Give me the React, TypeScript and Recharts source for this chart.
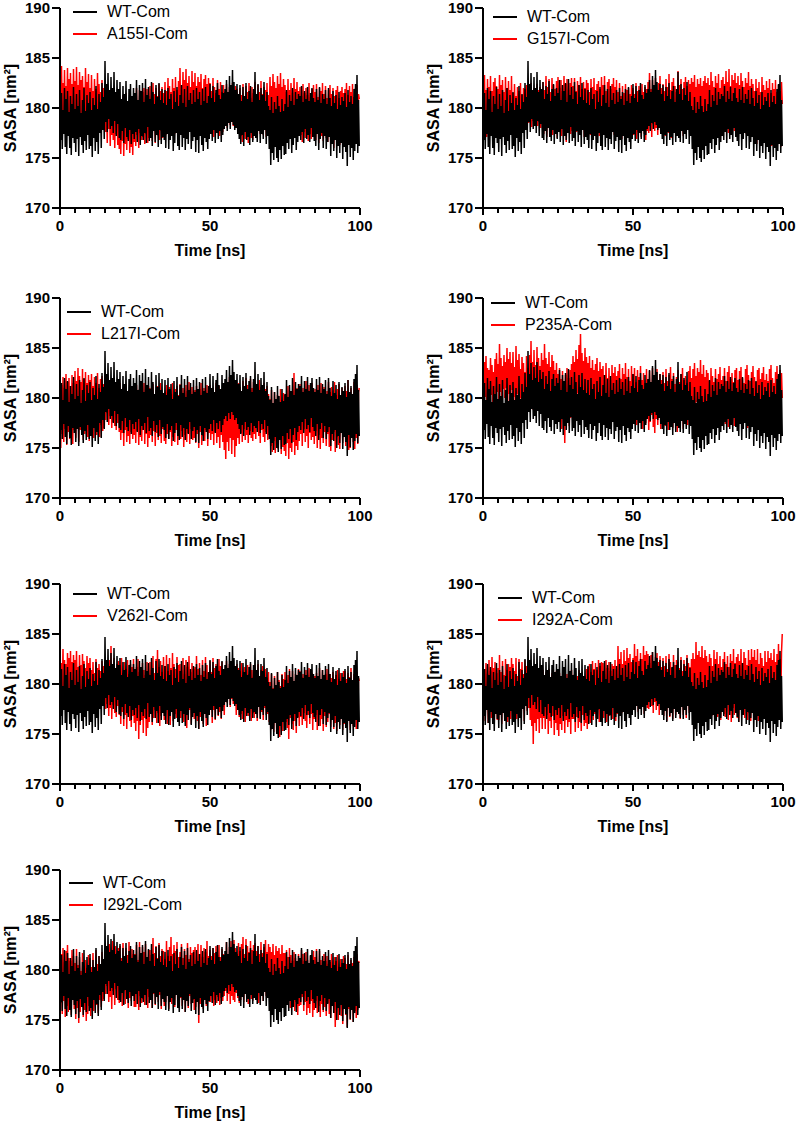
import React from 'react';
import { LineChart, Line, XAxis, YAxis, Legend } from 'recharts';

// Sampling interval of the traces (ns)
const TIME_STEP_NS = 0.25;

const X_TICKS = [0, 5, 10, 15, 20, 25, 30, 35, 40, 45, 50, 55, 60, 65, 70, 75, 80, 85, 90, 95, 100];
const X_LABELED = [0, 50, 100];
const Y_TICKS = [170, 175, 180, 185, 190];

const WT_LABEL = 'WT-Com';
const MUTANT_LABELS = ['A155I-Com', 'G157I-Com', 'L217I-Com', 'P235A-Com', 'V262I-Com', 'I292A-Com', 'I292L-Com'];

const WT_COM = [
  180.2,176.8,181.5,175.9,179.8,177.4,182.0,176.1,180.9,175.4,181.7,177.2,179.6,176.0,181.2,175.3,180.4,177.0,182.1,176.5,
  179.9,175.6,181.4,176.9,180.2,175.2,181.8,177.1,179.5,176.3,180.8,175.5,182.0,176.7,179.7,175.8,181.3,177.3,180.5,175.9,
  181.6,176.2,179.8,175.1,181.0,177.0,180.3,175.7,182.2,176.6,179.9,175.4,181.4,177.5,180.6,176.0,182.5,177.8,181.1,176.9,
  184.7,178.6,182.4,177.6,183.5,178.9,181.8,177.9,183.1,178.2,182.0,177.5,183.6,178.7,181.6,177.2,182.8,178.4,181.9,177.0,
  182.6,176.8,180.9,177.7,182.2,176.5,181.4,178.0,182.7,177.1,180.7,176.7,181.9,177.8,182.4,176.4,181.2,177.4,182.0,176.9,
  181.5,177.6,182.8,176.6,180.8,177.9,182.3,176.3,181.7,177.2,182.5,176.8,180.6,177.5,182.9,176.5,181.3,178.1,182.1,176.7,
  180.9,177.0,182.6,176.2,181.6,177.7,180.4,176.6,182.3,177.3,181.1,176.1,182.5,177.8,180.8,176.4,181.9,177.1,180.5,176.8,
  181.8,176.0,180.3,177.4,182.0,175.9,180.9,176.8,181.4,177.2,179.9,175.7,181.7,176.5,180.6,177.5,182.1,176.2,180.2,175.8,
  181.3,177.3,182.3,176.1,180.5,177.0,181.9,175.8,180.1,176.9,182.2,176.4,180.8,177.6,181.5,175.9,180.4,176.7,181.8,177.1,
  180.6,175.6,182.0,176.8,180.9,175.5,181.6,177.2,180.3,176.3,181.9,175.7,180.7,177.0,182.1,176.6,180.5,175.9,181.2,176.9,
  182.4,177.4,181.0,176.7,182.2,177.8,180.6,176.5,181.8,177.5,182.5,176.9,181.3,177.7,180.9,176.6,182.3,177.3,181.5,177.9,
  181.9,178.2,182.8,177.7,181.6,178.5,183.2,177.9,182.3,178.6,183.8,178.3,182.6,177.8,181.8,178.0,182.4,177.4,181.4,176.9,
  182.3,176.4,180.7,177.3,182.1,176.2,181.2,177.6,182.5,176.8,180.9,177.1,181.7,176.3,182.2,177.5,180.6,176.6,181.9,177.2,
  183.6,177.0,181.4,176.6,182.4,177.7,180.8,176.5,182.0,177.4,181.3,176.9,182.6,177.8,180.7,176.4,181.6,177.2,180.2,175.9,
  179.8,174.3,181.1,175.5,179.5,174.8,180.6,176.1,179.9,175.0,181.2,174.6,180.2,175.8,179.6,174.9,180.9,176.2,179.7,175.3,
  180.4,175.4,181.8,176.5,180.1,175.9,181.3,176.9,180.7,175.5,182.0,176.3,180.3,177.0,181.6,175.8,180.9,176.6,181.4,177.2,
  181.2,176.8,182.2,177.6,180.6,176.5,181.7,177.9,180.9,176.9,182.1,177.3,180.7,176.6,181.5,178.0,182.0,177.1,181.0,176.7,
  180.6,176.2,181.9,177.4,180.8,175.8,182.1,176.9,180.5,177.5,181.4,176.0,180.9,177.2,181.8,175.9,180.4,176.6,182.0,177.1,
  181.0,175.2,180.2,176.4,181.7,175.7,180.5,176.8,181.3,175.0,179.9,176.2,181.6,175.5,180.3,176.5,181.1,174.9,180.7,176.1,
  181.5,175.6,180.1,174.2,181.8,176.3,180.6,175.1,181.2,176.0,180.4,174.8,181.9,175.7,182.4,176.4,183.3,175.5,180.8,176.2,
];

const A155I_COM = [
  183.1,178.4,184.2,179.3,182.5,177.9,183.8,178.8,182.2,179.5,184.0,178.1,182.9,179.0,183.5,177.6,182.4,178.6,183.9,179.2,
  182.7,178.3,184.1,179.4,182.3,178.0,183.6,179.1,182.8,178.5,183.2,179.5,182.1,178.2,184.0,179.0,182.6,178.7,183.4,178.4,
  182.0,177.8,183.3,178.6,181.7,177.5,182.9,178.9,181.9,178.1,183.5,177.7,182.4,178.8,181.6,178.3,182.8,179.0,182.0,178.5,
  181.5,177.6,180.4,176.5,182.0,177.9,180.8,176.2,181.2,177.3,180.1,176.8,181.7,176.0,180.6,177.4,181.0,176.3,180.3,175.9,
  180.9,175.4,179.6,176.7,181.3,175.2,180.2,176.4,181.5,175.8,179.8,176.9,180.7,175.5,181.1,176.1,179.9,175.3,180.5,176.6,
  181.4,176.2,182.0,177.3,180.7,176.0,181.8,177.5,180.9,176.8,181.6,177.1,182.0,176.4,180.6,177.4,181.9,176.5,181.2,177.0,
  182.2,177.6,181.0,176.7,182.5,177.9,181.4,176.5,182.0,178.0,181.2,177.2,182.4,176.8,181.7,177.7,182.1,177.0,181.5,177.8,
  182.6,177.3,181.7,178.4,183.0,177.1,182.2,178.0,181.6,177.6,182.9,178.3,182.0,177.4,183.1,178.5,181.8,177.9,182.7,178.2,
  184.0,178.6,182.3,179.3,183.6,178.1,182.8,179.0,183.9,178.4,182.5,179.5,183.2,178.8,182.1,178.0,183.7,179.2,182.6,178.5,
  183.5,177.8,182.2,178.9,183.1,177.5,182.6,178.6,183.4,178.2,182.0,178.9,182.9,177.7,183.3,178.4,182.4,177.9,183.0,178.7,
  182.5,177.4,181.7,178.3,183.0,177.1,182.1,178.0,181.5,177.8,182.8,178.5,181.9,177.2,182.6,178.1,181.6,177.6,182.3,178.4,
  181.6,178.5,182.4,178.0,181.2,178.8,182.1,178.3,181.8,179.0,182.5,178.2,181.4,178.6,182.2,178.1,181.9,177.9,181.3,178.4,
  182.0,177.2,181.3,176.6,182.4,177.8,181.1,176.9,182.2,177.5,181.6,176.5,182.5,177.6,181.0,177.0,182.1,176.8,181.5,177.7,
  182.6,177.9,181.2,177.0,182.3,178.3,181.6,177.4,182.7,178.0,181.4,177.3,182.1,178.5,181.8,177.1,182.5,178.2,181.3,178.6,
  183.1,178.8,182.2,179.3,183.4,178.5,182.6,179.1,182.0,178.9,183.2,179.5,182.4,178.6,183.5,179.0,182.1,178.7,182.9,179.4,
  182.3,178.0,181.6,177.6,182.9,178.6,181.8,177.9,182.5,178.4,181.5,177.5,183.0,178.8,181.9,177.7,182.6,178.3,181.7,177.8,
  182.1,177.3,181.2,176.6,182.4,177.6,181.5,177.0,182.0,177.8,181.3,176.7,182.5,177.4,181.1,176.9,181.9,177.7,182.3,177.1,
  181.6,176.8,182.4,177.5,181.1,176.5,182.0,177.9,181.7,177.2,182.5,176.7,181.4,177.6,182.2,177.0,181.0,176.6,181.8,177.4,
  182.3,176.5,181.4,177.2,182.0,176.0,181.2,177.4,181.8,176.8,182.2,177.1,181.0,176.3,181.7,177.5,182.1,176.6,181.5,177.0,
  181.9,177.3,182.5,176.7,181.3,177.8,182.2,176.9,181.6,177.6,182.4,177.1,181.1,176.5,182.0,177.7,182.3,178.0,181.4,180.9,
];

const G157I_COM = [
  182.4,177.6,183.3,178.3,181.8,177.1,182.9,178.5,182.1,177.8,183.2,178.0,181.7,177.3,182.6,178.4,183.0,177.5,182.2,178.1,
  181.9,177.9,183.3,178.6,182.3,177.2,182.8,178.2,181.6,177.7,183.1,178.5,182.0,177.0,182.7,178.3,181.8,177.6,183.2,178.0,
  181.5,177.8,182.4,178.3,181.2,177.6,182.1,178.5,181.7,177.9,182.5,178.2,181.3,177.5,182.0,178.4,181.9,178.0,182.3,178.6,
  182.2,178.5,181.4,178.9,182.5,178.1,181.6,178.7,182.0,178.3,181.3,178.9,182.4,178.2,181.8,178.6,182.1,178.0,181.5,178.4,
  182.6,177.4,181.8,178.3,183.2,177.1,182.1,178.0,182.9,177.6,181.6,178.5,183.0,177.3,182.3,177.9,181.9,178.2,182.7,177.0,
  183.1,177.8,182.0,178.4,182.8,177.2,181.7,178.1,183.2,177.5,182.4,176.6,182.9,177.9,181.8,178.3,182.5,177.4,183.0,177.7,
  182.2,177.2,183.0,178.5,181.7,177.6,182.7,178.0,182.3,177.3,183.1,178.4,181.9,177.8,182.6,177.1,182.0,178.2,182.8,177.5,
  182.5,177.9,181.6,177.3,182.9,178.4,182.1,177.0,183.0,178.1,181.8,177.6,182.4,178.5,182.7,177.2,181.9,178.0,183.1,177.7,
  182.3,177.4,183.2,178.2,181.7,177.8,182.6,177.1,182.9,178.5,181.9,177.6,182.4,178.0,183.0,177.3,182.1,178.3,182.8,177.5,
  181.6,177.1,182.5,177.8,181.2,176.9,182.2,178.0,181.5,177.4,182.4,176.8,181.8,177.7,182.0,177.2,181.4,178.0,182.3,177.5,
  182.0,177.3,181.4,177.9,182.5,176.9,181.7,177.6,182.2,178.0,181.3,177.1,182.4,177.8,181.6,177.4,182.1,176.8,181.9,177.7,
  182.6,177.5,183.5,178.2,181.9,177.1,182.8,178.4,182.2,177.7,183.0,178.0,181.8,177.3,182.5,178.5,183.2,177.6,182.0,178.1,
  182.4,177.8,181.7,177.2,182.9,178.3,182.1,177.5,183.4,178.0,181.8,177.0,182.6,178.4,183.0,177.6,182.2,177.9,181.6,177.4,
  183.7,178.1,182.3,177.5,182.9,178.4,181.9,177.2,182.6,178.0,183.1,177.7,182.2,178.3,182.8,178.6,182.4,178.9,183.0,179.1,
  182.6,179.0,183.3,178.7,182.1,179.4,182.9,178.5,182.4,179.2,183.0,178.8,182.2,179.5,182.7,178.6,183.2,179.0,182.5,178.9,
  183.0,178.2,182.3,177.8,183.6,178.5,182.7,178.0,182.1,177.6,183.2,178.7,182.5,177.9,183.4,178.3,182.0,177.5,182.8,178.4,
  183.1,177.8,182.4,178.6,183.7,178.0,182.6,177.5,183.9,178.3,182.2,177.9,183.3,178.6,182.8,177.7,183.5,178.1,182.5,178.8,
  183.2,178.0,182.3,177.6,183.5,178.4,182.7,177.9,182.1,178.6,183.0,177.4,182.5,178.2,183.6,177.8,182.2,178.5,182.9,177.7,
  182.4,176.9,181.7,177.5,182.9,176.4,182.0,177.2,182.6,176.8,181.6,177.6,183.1,176.6,182.3,177.0,181.8,176.3,182.7,177.4,
  182.0,176.7,182.9,177.3,181.5,176.2,182.5,177.5,181.9,176.9,182.8,177.0,181.6,176.5,182.3,177.6,181.7,176.1,182.6,180.4,
];

const L217I_COM = [
  182.5,175.0,181.3,176.4,182.1,175.6,181.0,176.9,182.4,175.3,181.6,176.6,182.0,175.9,181.2,176.2,182.3,175.4,181.5,176.8,
  182.7,176.0,181.7,177.3,183.0,175.6,182.2,176.8,181.6,177.1,182.9,175.8,181.9,176.4,182.6,177.4,181.5,176.1,182.3,175.7,
  181.8,176.5,182.4,177.2,181.2,176.0,182.1,177.5,181.5,176.3,182.5,176.9,181.0,176.1,181.9,177.3,182.2,176.7,181.4,177.0,
  182.0,177.8,181.2,178.5,181.9,177.3,180.8,178.2,181.6,177.0,180.6,177.6,181.3,177.2,180.7,176.8,181.1,177.5,180.5,176.6,
  181.5,175.8,180.2,176.5,181.0,175.2,180.6,176.8,181.4,175.6,179.9,176.2,180.8,175.4,181.2,176.6,180.1,175.9,180.9,176.3,
  180.4,175.5,181.3,176.7,179.8,175.3,180.9,176.1,181.1,175.7,180.2,176.8,181.5,175.4,180.0,176.4,180.7,175.1,181.2,176.0,
  181.0,176.3,180.3,175.6,181.4,176.7,179.7,175.2,180.8,176.5,181.2,175.8,180.1,176.2,181.5,175.5,180.5,176.9,179.9,175.7,
  180.6,175.4,181.3,176.4,180.0,175.9,181.1,176.6,180.4,175.2,181.5,176.1,179.8,175.6,180.9,176.8,181.2,175.3,180.3,176.2,
  181.4,175.9,180.5,176.7,181.0,175.1,179.9,176.3,181.3,175.6,180.7,176.5,181.6,175.4,180.2,176.9,181.1,175.8,180.4,176.0,
  180.8,175.5,181.2,176.4,179.8,175.0,180.9,176.6,181.5,175.3,180.1,176.2,181.0,175.7,180.6,176.8,181.3,175.2,180.3,176.5,
  181.3,175.8,180.2,176.4,181.0,175.3,179.8,176.6,181.5,175.5,180.6,176.1,181.2,175.0,180.0,176.3,180.8,175.6,181.4,174.8,
  180.5,173.9,181.6,175.6,180.2,174.7,182.1,176.0,180.9,174.4,181.3,175.8,180.6,174.1,181.8,175.2,180.4,176.0,181.5,175.4,
  181.1,176.5,180.6,175.6,181.7,176.9,180.9,175.8,182.0,176.3,181.3,175.5,180.7,176.7,181.9,176.0,181.0,175.7,181.6,176.4,
  180.8,175.9,181.4,177.0,180.5,176.2,181.8,175.5,181.1,176.8,180.6,176.1,181.5,175.6,180.9,176.6,181.2,175.8,180.4,176.3,
  179.9,175.2,180.8,174.6,179.4,175.7,180.6,174.5,179.2,175.3,180.3,174.9,179.6,175.8,180.9,174.4,179.8,175.1,180.5,174.7,
  180.3,174.2,179.6,175.5,181.2,173.9,180.1,175.0,179.5,174.6,180.7,175.6,182.5,174.3,180.0,175.2,181.0,174.8,180.4,175.7,
  181.4,176.4,180.2,175.2,181.0,176.9,180.5,175.6,181.7,176.2,180.8,175.0,181.3,176.5,180.1,175.8,181.5,176.1,180.6,175.4,
  180.9,176.7,179.8,175.0,181.3,176.3,180.4,174.9,181.5,176.0,180.1,175.5,181.1,176.6,179.9,175.2,180.7,176.4,181.6,175.1,
  180.6,174.7,181.1,175.8,180.0,176.6,181.6,174.6,180.3,176.1,180.9,175.3,181.4,174.9,180.2,176.5,181.0,175.5,180.5,176.2,
  181.2,175.2,180.7,176.4,181.8,174.8,180.5,175.0,181.0,176.3,180.3,175.6,181.6,174.9,180.8,176.0,181.3,175.4,180.6,181.0,
];

const P235A_COM = [
  182.2,179.6,183.6,180.1,184.2,179.2,183.0,180.5,182.8,179.0,184.0,180.3,183.3,179.5,182.6,180.2,183.9,179.4,184.5,180.6,
  183.4,179.8,185.4,180.6,184.0,179.5,183.2,180.9,184.3,180.0,183.6,181.0,185.0,179.7,183.9,180.4,184.6,179.6,183.5,180.8,
  184.6,180.1,183.1,179.2,185.2,180.4,183.8,179.7,184.4,180.0,182.9,179.3,184.1,180.5,183.5,179.0,182.6,178.8,184.2,179.5,
  183.0,178.6,184.3,179.4,185.7,180.0,183.6,178.8,184.8,179.7,183.3,179.1,185.1,180.2,184.0,178.9,183.2,179.6,184.5,180.0,
  183.8,179.2,185.4,180.1,184.0,178.7,183.4,179.8,184.6,178.9,183.1,180.0,184.3,179.4,183.7,178.6,182.8,179.1,183.5,178.5,
  182.4,177.8,183.0,178.5,181.9,176.9,182.7,178.2,181.6,175.5,182.3,177.6,183.0,178.4,182.0,177.2,182.8,178.0,183.4,179.0,
  184.2,179.6,183.6,180.3,184.8,179.1,183.9,180.5,185.3,179.8,186.4,180.6,184.5,179.4,183.7,180.2,185.0,179.7,184.1,180.0,
  183.5,179.3,184.2,178.9,183.0,179.6,183.8,178.6,182.8,179.9,183.4,178.8,184.0,179.2,182.7,178.5,183.6,179.5,182.9,178.7,
  183.2,178.4,182.3,177.6,183.5,178.9,182.0,177.9,183.0,178.2,181.8,177.4,183.3,178.6,182.5,177.7,183.1,179.0,182.2,178.1,
  182.7,177.5,183.4,178.6,181.9,177.2,183.0,178.3,182.4,177.8,183.5,178.9,182.1,177.3,182.9,178.0,181.7,177.6,183.2,178.5,
  182.4,177.9,183.0,178.2,181.6,177.3,182.8,178.7,182.1,177.6,183.2,178.4,181.8,176.9,182.5,178.0,181.5,177.5,182.9,178.6,
  181.9,176.8,182.7,177.6,181.4,178.3,183.0,177.1,182.2,176.5,181.6,177.9,182.9,177.3,181.3,178.1,182.4,176.9,181.8,177.7,
  182.6,178.0,181.5,177.2,182.9,178.5,181.7,176.8,182.3,177.6,183.1,178.2,181.9,177.0,182.5,178.4,181.4,177.5,182.1,176.6,
  182.8,177.8,181.6,177.1,182.4,178.3,183.0,176.9,181.8,177.6,182.2,178.1,181.5,177.3,182.7,178.5,183.2,179.0,182.0,178.6,
  182.9,179.1,183.5,178.4,182.2,179.6,183.0,178.8,182.6,179.3,183.8,179.7,182.4,178.5,183.3,179.0,182.1,178.3,182.8,179.4,
  182.5,177.8,181.7,177.3,183.0,178.6,182.2,177.0,181.6,178.2,182.9,177.5,181.9,178.8,182.4,177.2,183.1,178.0,181.8,177.6,
  182.2,178.3,183.0,177.4,181.7,178.7,182.6,177.1,183.2,178.0,181.9,177.8,182.5,178.5,181.6,177.2,182.8,178.2,183.0,177.6,
  181.8,177.9,182.7,178.4,183.1,177.3,182.0,178.6,181.5,177.6,182.9,178.1,183.3,177.0,182.3,178.5,181.7,177.5,182.6,178.0,
  183.2,177.7,182.1,178.6,181.6,177.2,182.8,178.3,183.0,177.5,181.9,178.8,182.5,177.4,183.1,178.0,181.8,177.8,182.4,178.5,
  181.7,177.3,182.9,178.2,183.3,177.6,182.0,178.7,181.5,177.1,182.6,178.4,183.2,177.9,182.2,178.0,182.8,177.4,182.5,180.0,
];

const V262I_COM = [
  183.4,178.3,182.1,179.2,183.5,177.6,182.4,178.9,182.0,177.8,183.1,179.5,182.6,178.1,183.3,179.0,182.2,177.7,182.9,178.6,
  182.4,178.5,183.3,179.0,181.7,178.2,182.9,179.4,181.9,178.0,183.0,178.7,182.3,179.2,181.6,178.4,182.8,179.5,182.1,178.3,
  182.6,178.1,181.4,177.5,182.2,178.9,181.1,177.8,182.5,178.4,181.6,177.6,182.0,178.7,181.3,178.0,182.3,177.9,181.8,178.3,
  181.6,177.5,182.1,178.0,181.3,176.8,182.4,177.6,183.8,176.5,181.8,177.9,182.6,177.1,181.5,176.7,182.0,177.8,182.3,176.9,
  181.9,176.0,182.6,177.2,181.1,175.8,182.2,176.9,181.5,175.5,182.4,177.4,181.0,176.3,182.0,175.7,181.7,176.8,182.5,176.1,
  180.8,175.3,181.7,176.3,182.5,174.5,181.2,175.9,180.6,176.4,182.1,175.1,181.4,176.6,180.9,174.8,182.2,175.6,181.0,176.2,
  182.2,177.0,181.4,175.9,182.8,176.6,181.1,177.4,182.5,176.1,183.4,177.1,181.7,175.8,182.3,176.8,181.2,177.3,182.7,176.4,
  181.8,177.6,182.9,176.0,181.3,177.2,182.6,175.9,181.6,177.5,183.1,176.3,182.0,177.0,181.5,176.6,182.7,177.8,181.9,176.2,
  182.0,176.6,181.3,177.5,182.6,176.2,181.0,177.1,182.4,175.6,181.7,176.9,182.8,177.4,181.2,176.0,182.1,177.3,181.5,176.5,
  181.7,177.0,182.8,176.3,181.5,175.5,182.1,176.7,180.9,177.2,182.4,176.0,181.3,177.4,182.7,175.8,181.9,176.9,181.1,177.3,
  182.3,177.6,181.2,176.1,182.6,177.4,181.6,176.4,182.0,177.9,181.4,176.8,182.5,177.2,181.8,176.5,182.2,177.7,181.5,176.9,
  181.5,178.4,182.3,178.1,181.2,178.6,182.0,177.7,181.7,178.5,182.3,178.0,181.4,178.3,180.8,176.9,182.0,177.4,181.6,176.7,
  181.3,177.0,182.1,176.5,180.9,177.6,181.7,176.2,180.5,177.3,181.9,176.8,181.0,177.5,182.0,176.3,181.4,177.1,180.7,176.6,
  181.9,177.5,181.0,176.3,182.0,177.8,180.7,176.6,181.4,177.2,181.8,176.4,180.9,177.6,181.5,176.9,180.6,177.0,181.2,176.2,
  180.2,175.4,181.0,176.8,179.6,175.2,180.8,176.4,179.9,175.0,181.2,176.1,180.4,174.7,179.8,175.9,181.0,175.3,180.5,176.5,
  181.2,176.2,180.4,175.6,180.9,174.5,181.5,176.6,180.6,176.0,181.3,175.4,180.1,176.3,181.0,175.1,180.7,176.7,181.5,175.8,
  181.3,176.7,180.7,175.9,181.0,177.1,180.5,176.3,181.4,175.6,180.9,176.9,181.6,176.0,180.3,177.0,181.1,175.4,180.8,176.5,
  180.8,176.9,181.1,175.4,180.3,177.2,181.6,175.8,180.2,176.5,181.4,175.3,180.7,176.8,181.0,175.7,181.5,176.2,180.4,177.0,
  181.0,175.7,180.6,176.8,181.2,175.5,180.0,176.1,180.9,175.3,181.4,176.4,180.5,175.9,181.1,176.6,180.2,175.4,181.3,176.0,
  181.3,176.4,180.5,175.6,181.1,176.9,180.7,175.4,181.6,176.2,180.3,175.8,181.0,176.6,180.8,175.5,181.2,176.3,180.6,180.3,
];

const I292A_COM = [
  182.8,177.0,181.5,176.3,182.1,177.8,181.0,176.1,182.4,177.5,181.3,176.6,182.7,177.2,181.6,176.0,182.2,177.6,181.1,176.4,
  181.6,176.4,182.9,177.2,181.2,176.0,182.3,177.6,180.9,176.7,182.5,177.0,181.4,176.2,182.0,177.4,181.7,176.5,182.6,177.8,
  182.0,176.2,181.3,177.4,182.6,176.5,180.8,178.0,182.5,177.1,181.5,176.8,182.2,177.6,181.0,176.3,182.4,177.9,181.8,177.3,
  182.2,177.6,180.9,176.4,181.6,175.8,180.5,174.0,181.2,176.1,180.7,175.3,181.9,176.5,180.4,175.1,181.0,176.6,180.2,175.5,
  181.4,176.6,180.5,175.5,181.2,176.9,180.0,175.0,181.5,176.3,179.8,175.6,181.1,176.8,180.3,174.9,180.9,176.1,181.3,175.4,
  180.3,174.8,181.1,176.0,179.6,175.4,180.7,176.8,181.3,175.1,180.1,176.4,181.0,175.7,179.9,176.2,180.6,175.0,181.4,176.5,
  180.1,176.5,181.0,175.2,179.9,176.7,180.8,175.6,181.4,176.2,180.4,175.3,181.2,176.9,180.0,175.8,180.7,176.1,181.5,175.5,
  181.7,176.9,182.0,176.1,181.2,177.3,182.3,176.4,181.5,177.0,182.1,176.6,181.4,177.4,182.4,176.2,181.8,177.1,182.2,176.8,
  182.1,176.6,181.0,177.4,182.4,176.2,181.6,177.7,182.2,176.8,181.3,177.2,182.0,176.5,181.8,177.6,182.4,176.3,181.5,177.0,
  183.8,177.3,182.5,178.0,183.2,177.1,182.0,178.3,183.4,177.6,182.3,177.9,183.6,177.2,182.6,178.4,183.0,177.5,182.2,178.1,
  182.6,178.1,184.0,177.4,182.8,178.5,183.5,177.2,182.3,178.0,183.1,177.7,182.5,178.4,183.8,177.0,182.9,178.2,183.3,177.6,
  183.0,177.5,182.1,178.6,182.9,177.8,183.2,177.1,181.9,178.2,182.7,177.4,183.1,178.0,182.2,176.9,182.8,178.3,181.7,177.6,
  182.6,176.8,181.8,177.6,182.8,176.3,181.5,177.9,183.0,176.7,182.2,177.2,181.6,176.5,182.9,177.8,181.9,176.9,182.4,177.4,
  182.2,177.3,181.6,176.5,182.7,177.8,181.3,176.9,182.4,177.5,181.8,176.6,182.9,177.9,182.1,177.1,181.7,178.2,182.5,177.6,
  183.1,178.4,182.5,177.9,184.2,178.8,182.9,178.1,183.3,177.6,182.7,178.5,183.8,178.2,182.6,177.8,183.4,178.6,182.8,178.0,
  182.2,178.5,183.0,177.2,182.6,176.8,181.8,177.7,183.4,176.5,182.5,177.0,183.2,176.7,182.0,177.9,182.8,176.4,181.7,177.4,
  182.5,177.0,183.2,176.7,182.0,177.9,182.8,176.4,181.7,177.4,183.0,176.2,182.3,177.6,183.5,176.9,182.1,177.2,182.7,176.6,
  183.0,176.2,182.3,177.6,183.5,176.9,182.1,177.2,183.2,176.6,182.6,177.8,181.9,176.4,183.4,177.1,182.4,176.3,183.5,177.5,
  182.7,177.8,183.4,176.4,182.4,177.1,183.5,176.3,182.0,177.5,183.1,176.8,182.6,177.4,181.8,176.5,183.3,177.9,182.2,176.9,
  183.3,176.8,182.6,177.4,183.1,176.5,182.4,177.9,183.5,177.0,182.2,176.6,183.0,177.3,184.0,176.9,182.5,177.6,183.2,185.0,
];

const I292L_COM = [
  183.0,176.7,181.6,175.6,182.2,176.9,180.8,175.3,181.9,176.4,182.5,175.8,181.2,176.6,180.9,175.5,182.0,177.0,181.4,176.1,
  180.7,175.1,182.1,176.2,180.5,174.7,181.3,175.8,179.9,176.6,181.7,175.3,180.4,176.0,181.0,174.9,180.2,175.6,181.5,176.4,
  181.2,175.4,180.3,176.8,181.7,175.9,180.1,177.2,182.0,176.5,180.6,175.7,181.4,177.0,180.0,176.3,181.8,176.9,180.8,177.1,
  181.5,177.6,182.3,178.4,181.8,176.8,182.6,177.3,181.4,176.1,182.9,177.9,181.1,176.5,182.4,178.1,181.7,177.0,182.2,176.7,
  182.4,177.7,181.2,176.4,182.7,177.9,180.9,176.6,182.2,177.5,181.5,176.2,182.8,177.2,181.0,176.9,182.1,177.6,181.6,176.3,
  181.6,176.3,182.5,177.8,181.0,176.0,182.8,177.4,181.3,176.7,182.3,177.1,181.8,176.5,182.6,177.9,181.1,176.2,182.0,177.3,
  182.0,177.1,181.5,176.2,183.2,177.6,181.7,176.5,182.4,177.3,181.2,176.8,182.7,177.5,181.4,176.1,182.1,177.8,181.9,176.4,
  181.1,176.8,182.9,177.5,181.4,176.1,182.3,177.9,183.3,176.6,181.6,177.2,182.5,176.3,181.9,177.7,182.8,176.9,181.3,177.4,
  181.8,177.2,182.6,176.4,181.2,177.7,182.1,175.8,181.5,176.9,182.7,176.2,181.1,177.4,182.3,176.6,181.7,177.0,182.0,176.0,
  182.3,176.3,181.0,177.4,182.6,174.7,181.6,176.6,182.5,177.2,181.3,176.1,182.2,177.6,181.8,176.4,182.9,177.0,181.4,176.8,
  182.0,176.8,181.4,177.5,182.2,176.4,181.7,177.0,182.4,176.7,181.5,177.3,182.5,176.5,181.3,177.2,182.1,176.9,181.6,177.4,
  181.5,177.9,182.8,176.9,181.2,177.6,182.3,176.6,182.9,177.4,181.8,177.0,183.0,176.8,182.2,177.7,181.6,177.2,182.7,176.7,
  181.9,177.0,182.6,177.7,183.3,176.8,181.6,177.9,183.1,177.2,182.4,176.6,181.8,177.5,182.9,177.1,182.0,176.9,182.5,177.8,
  182.7,178.0,181.9,177.3,182.4,176.7,181.6,177.8,182.8,177.5,181.7,176.9,182.3,178.0,183.0,177.4,181.8,177.7,182.6,178.2,
  182.3,178.2,181.8,179.0,182.6,178.5,181.5,179.3,182.4,178.1,181.9,178.8,182.2,179.1,181.6,178.4,182.5,178.9,181.7,178.3,
  181.7,177.4,182.0,176.6,181.3,177.9,182.2,176.2,181.5,177.0,180.9,176.5,181.8,175.9,181.2,176.8,180.7,175.5,181.6,176.4,
  181.2,176.5,182.0,177.3,181.6,175.9,180.9,176.8,181.8,175.5,181.0,176.2,180.6,175.7,181.4,176.9,180.8,175.3,181.9,176.0,
  181.3,176.9,182.1,175.7,180.7,176.4,181.9,175.3,181.0,176.6,180.5,175.8,181.6,176.3,180.9,175.4,181.4,176.7,180.6,175.6,
  180.8,175.2,181.6,176.5,180.5,175.7,181.3,174.3,180.9,176.2,181.5,175.0,180.3,176.8,181.1,175.4,180.7,174.6,181.4,176.1,
  181.2,175.5,180.6,174.3,181.5,176.1,180.2,175.0,181.0,176.3,180.7,174.8,181.3,175.9,180.4,175.2,181.6,176.0,180.9,180.7,
];

const MUTANT_SERIES = [A155I_COM, G157I_COM, L217I_COM, P235A_COM, V262I_COM, I292A_COM, I292L_COM];

// ---------- layout (not data) ----------
const FONT = '"Liberation Sans", Arial, Helvetica, sans-serif';
const CHART_W = 374;
const CHART_H = 270;
const MARGIN = { top: 8, right: 14, bottom: 12, left: 0 };
const TRACE_WIDTH = 1.5;
const PANEL_POS = [
  { left: 0, top: 0, legendLeft: 73, legendTop: 1 },
  { left: 423, top: 0, legendLeft: 70, legendTop: 6 },
  { left: 0, top: 290, legendLeft: 67, legendTop: 11 },
  { left: 423, top: 290, legendLeft: 68, legendTop: 2 },
  { left: 0, top: 576, legendLeft: 73, legendTop: 7 },
  { left: 423, top: 576, legendLeft: 75, legendTop: 11 },
  { left: 0, top: 862, legendLeft: 69, legendTop: 10 },
];

const XTick = (props: any) => {
  const { x, y, payload } = props;
  const major = X_LABELED.includes(payload.value);
  return (
    <g>
      <line x1={x} x2={x} y1={y} y2={y + (major ? 7 : 5)} stroke="#000" strokeWidth={2} />
      {major && (
        <text x={x} y={y + 23} textAnchor="middle" fontFamily={FONT} fontSize={15} fontWeight="bold" fill="#000">
          {payload.value}
        </text>
      )}
    </g>
  );
};

const makeLegend = (mutantLabel: string) => () => (
  <div style={{ fontFamily: FONT, fontSize: 16, color: '#000' }}>
    {[
      { label: WT_LABEL, color: '#000000' },
      { label: mutantLabel, color: '#ff0000' },
    ].map((it) => (
      <div key={it.label} style={{ display: 'flex', alignItems: 'center', height: 22 }}>
        <div style={{ width: 24, height: 2, background: it.color, marginRight: 10 }} />
        <span style={{ whiteSpace: 'nowrap' }}>{it.label}</span>
      </div>
    ))}
  </div>
);

const Panel = ({ idx }: { idx: number }) => {
  const pos = PANEL_POS[idx];
  const mutant = MUTANT_SERIES[idx];
  const data = WT_COM.map((wt, i) => ({ t: i * TIME_STEP_NS, wt, mut: mutant[i] }));
  const plotCenterX = MARGIN.left + 60 + (CHART_W - MARGIN.left - MARGIN.right - 60) / 2;
  const plotCenterY = MARGIN.top + (CHART_H - MARGIN.top - MARGIN.bottom - 50) / 2;
  return (
    <div style={{ position: 'absolute', left: pos.left, top: pos.top }}>
      <LineChart width={CHART_W} height={CHART_H} data={data} margin={MARGIN}>
        <XAxis
          dataKey="t"
          type="number"
          domain={[0, 100]}
          ticks={X_TICKS}
          interval={0}
          tickSize={0}
          tickMargin={0}
          tickLine={false}
          tick={<XTick />}
          height={50}
          axisLine={{ stroke: '#000', strokeWidth: 2 }}
          label={{
            content: () => (
              <text x={plotCenterX} y={CHART_H - MARGIN.bottom - 2} textAnchor="middle" fontFamily={FONT} fontSize={16} fontWeight="bold" fill="#000">
                Time [ns]
              </text>
            ),
          }}
        />
        <YAxis
          type="number"
          domain={[170, 190]}
          ticks={Y_TICKS}
          interval={0}
          width={60}
          tickSize={8}
          tickMargin={2}
          tick={{ fontFamily: FONT, fontSize: 15, fontWeight: 'bold', fill: '#000' }}
          tickLine={{ stroke: '#000', strokeWidth: 2 }}
          axisLine={{ stroke: '#000', strokeWidth: 2 }}
          allowDataOverflow
          label={{
            content: () => (
              <text
                transform={`translate(16, ${plotCenterY}) rotate(-90)`}
                textAnchor="middle"
                fontFamily={FONT}
                fontSize={16}
                fontWeight="bold"
                fill="#000"
              >
                SASA [nm²]
              </text>
            ),
          }}
        />
        <Line dataKey="mut" stroke="#ff0000" strokeWidth={TRACE_WIDTH} dot={false} isAnimationActive={false} type="linear" />
        <Line dataKey="wt" stroke="#000000" strokeWidth={TRACE_WIDTH} dot={false} isAnimationActive={false} type="linear" />
        <Legend
          layout="vertical"
          align="center"
          verticalAlign="middle"
          wrapperStyle={{ left: pos.legendLeft, top: pos.legendTop, width: 'auto' }}
          content={makeLegend(MUTANT_LABELS[idx])}
        />
      </LineChart>
    </div>
  );
}

export default function App() {
  return (
    <div style={{ position: 'absolute', left: 0, top: 0, width: 797, height: 1124, background: '#fff' }}>
      {MUTANT_LABELS.map((_, i) => (
        <Panel key={i} idx={i} />
      ))}
    </div>
  );
}
